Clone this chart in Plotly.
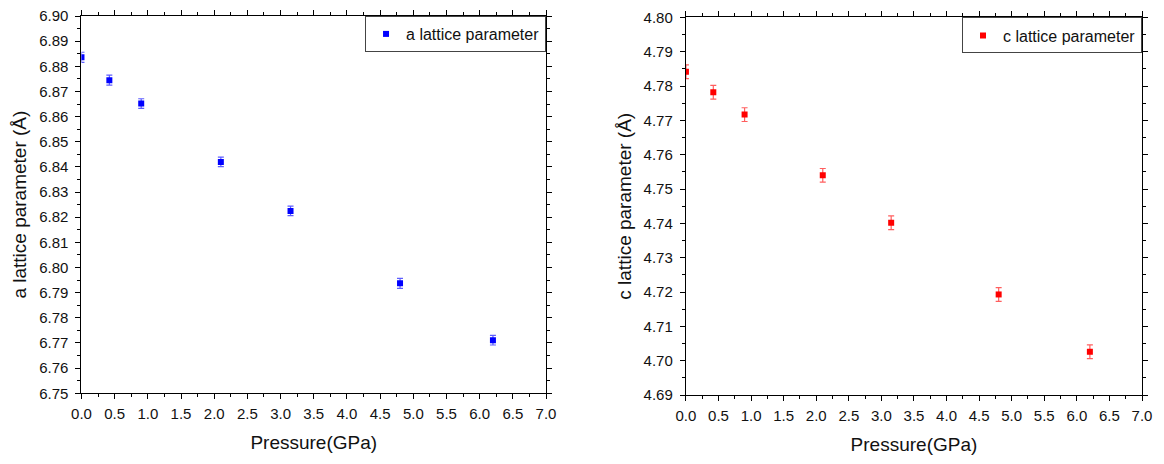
import plotly.graph_objects as go

pressure = [0.0, 0.42, 0.90, 2.10, 3.15, 4.80, 6.20]
a_param = [6.8836, 6.8745, 6.8652, 6.8420, 6.8225, 6.7937, 6.7711]
a_err = [0.002, 0.002, 0.0019, 0.0019, 0.0019, 0.002, 0.0019]
c_param = [4.7842, 4.7782, 4.7717, 4.7540, 4.7402, 4.7193, 4.7026]
c_err = [0.002, 0.002, 0.002, 0.002, 0.002, 0.002, 0.002]

FONT = "Liberation Sans, Arial, sans-serif"
TXT = "#111111"

fig = go.Figure()
fig.add_trace(go.Scatter(
    x=pressure, y=a_param, mode="markers", name="a lattice parameter",
    marker=dict(symbol="square", size=6, color="#0000FF"),
    error_y=dict(type="data", array=a_err, visible=True, color="rgba(40,40,255,0.75)",
                 thickness=1.2, width=3),
    xaxis="x", yaxis="y", legend="legend"))
fig.add_trace(go.Scatter(
    x=pressure, y=c_param, mode="markers", name="c lattice parameter",
    marker=dict(symbol="square", size=6, color="#FF0000"),
    error_y=dict(type="data", array=c_err, visible=True, color="rgba(255,40,40,0.75)",
                 thickness=1.2, width=3),
    xaxis="x2", yaxis="y2", legend="legend2"))

axis_common = dict(
    showgrid=False, zeroline=False, showline=True, linecolor="black", linewidth=1.3,
    mirror="allticks", ticks="outside", ticklen=5, tickwidth=1.2, tickcolor="black",
    tickfont=dict(family=FONT, size=15, color=TXT), automargin=False,
)

xcommon = dict(axis_common, range=[0, 7], dtick=0.5, tick0=0, tickformat=".1f",
               ticklabelstandoff=2,
               minor=dict(dtick=0.25, ticks="outside", ticklen=3, tickcolor="black", tickwidth=1),
               title=dict(text="Pressure(GPa)", font=dict(family=FONT, size=19, color=TXT), standoff=14))

ycommon = dict(axis_common, dtick=0.01, tickformat=".2f", ticklabelstandoff=4,
               minor=dict(dtick=0.005, ticks="outside", ticklen=3, tickcolor="black", tickwidth=1))

legend_common = dict(xanchor="right", yanchor="top", bgcolor="white",
                     bordercolor="#444444", borderwidth=1,
                     font=dict(family=FONT, size=16, color=TXT),
                     tracegroupgap=0, itemwidth=30)

fig.update_layout(
    width=1164, height=464,
    margin=dict(l=0, r=0, t=0, b=0),
    paper_bgcolor="white", plot_bgcolor="white",
    font=dict(family=FONT, color=TXT),
    xaxis=dict(xcommon, domain=[0.0700, 0.4691], anchor="y"),
    yaxis=dict(ycommon, domain=[0.1524, 0.9655], anchor="x", range=[6.75, 6.90], tick0=6.75,
               title=dict(text="a lattice parameter (Å)", font=dict(family=FONT, size=19, color=TXT), standoff=7)),
    xaxis2=dict(xcommon, domain=[0.5893, 0.9811], anchor="y2"),
    yaxis2=dict(ycommon, domain=[0.1487, 0.9623], anchor="x2", range=[4.69, 4.80], tick0=4.69,
                title=dict(text="c lattice parameter (Å)", font=dict(family=FONT, size=19, color=TXT), standoff=6)),
    legend=dict(legend_common, x=0.4691, y=0.9655),
    legend2=dict(legend_common, x=0.9811, y=0.9623),
    showlegend=True,
)

fig.write_html("out.html")
